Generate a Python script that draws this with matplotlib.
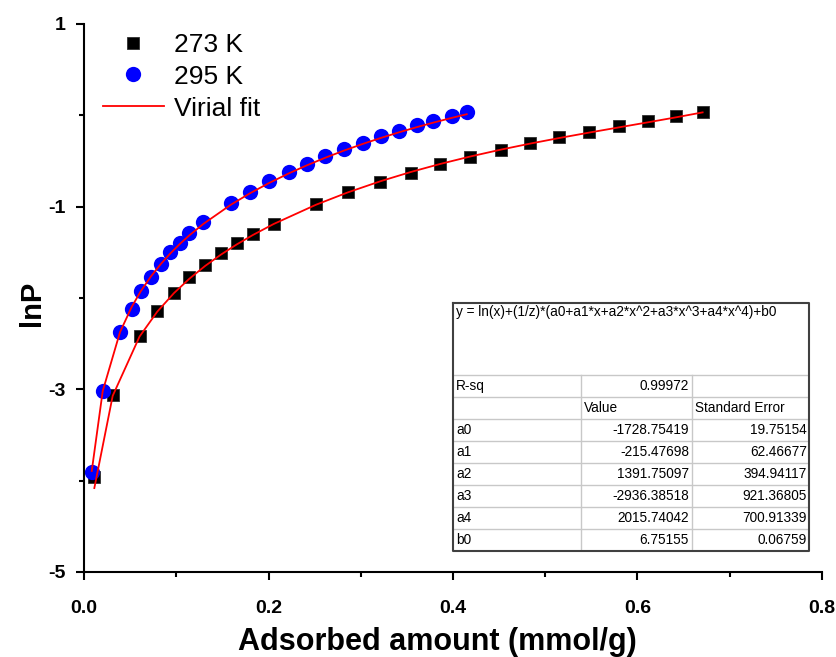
import numpy as np
import matplotlib
matplotlib.use('Agg')
import matplotlib.pyplot as plt
from matplotlib.ticker import MultipleLocator

plt.rcParams['font.family'] = ['Liberation Sans', 'DejaVu Sans']

# adsorbed amount (mmol/g) and lnP
n_273 = [0.0112, 0.0311, 0.0602, 0.0794, 0.0976, 0.1141, 0.1314, 0.1482, 0.1655,
         0.1829, 0.2056, 0.2515, 0.2858, 0.3214, 0.3544, 0.3859, 0.4184, 0.4517,
         0.4834, 0.5152, 0.5479, 0.5804, 0.6110, 0.6422, 0.6706]
lnp_273 = [-3.963, -3.062, -2.411, -2.140, -1.940, -1.773, -1.639, -1.511, -1.401,
           -1.303, -1.187, -0.974, -0.843, -0.725, -0.628, -0.538, -0.453, -0.377,
           -0.306, -0.241, -0.179, -0.115, -0.059, -0.005, 0.033]

n_295 = [0.0084, 0.0203, 0.0390, 0.0517, 0.0615, 0.0723, 0.0835, 0.0932, 0.1040,
         0.1141, 0.1293, 0.1590, 0.1799, 0.2008, 0.2222, 0.2414, 0.2616, 0.2818,
         0.3021, 0.3216, 0.3414, 0.3606, 0.3788, 0.3987, 0.4149]
lnp_295 = [-3.902, -3.015, -2.372, -2.117, -1.923, -1.767, -1.624, -1.496, -1.395,
           -1.292, -1.171, -0.963, -0.836, -0.719, -0.620, -0.530, -0.449, -0.369,
           -0.300, -0.226, -0.168, -0.111, -0.059, -0.004, 0.034]

# fit table shown in the chart
fit_formula = 'y = ln(x)+(1/z)*(a0+a1*x+a2*x^2+a3*x^3+a4*x^4)+b0'
r_sq = 0.99972
param_names = ['a0', 'a1', 'a2', 'a3', 'a4', 'b0']
param_values = [-1728.75419, -215.47698, 1391.75097, -2936.38518, 2015.74042, 6.75155]
param_errors = [19.75154, 62.46677, 394.94117, 921.36805, 700.91339, 0.06759]

x_ticks = [0.0, 0.2, 0.4, 0.6, 0.8]
y_ticks = [-5, -3, -1, 1]


def virial(n, temp):
    # virial equation with the fitted parameters from the table
    n = np.asarray(n)
    a0, a1, a2, a3, a4, b0 = param_values
    poly = a0 + a1 * n + a2 * n ** 2 + a3 * n ** 3 + a4 * n ** 4
    return np.log(n) + poly / temp + b0


W, H = 837, 657
fig = plt.figure(figsize=(W / 100, H / 100), dpi=100)
ax_l, ax_r, ax_t, ax_b = 84, 822, 24, 572
ax = fig.add_axes([ax_l / W, 1 - ax_b / H, (ax_r - ax_l) / W, (ax_b - ax_t) / H])

ax.plot(n_273, lnp_273, 's', color='black', markersize=9.3, markeredgecolor='#303030',
        markeredgewidth=0.6, label='273 K', zorder=2)
ax.plot(n_295, lnp_295, 'o', color='#0000ff', markersize=11, markeredgewidth=0,
        label='295 K', zorder=2)
ax.plot(n_273, virial(n_273, 273.0), color='#ff0000', linewidth=1.3, label='Virial fit', zorder=3)
ax.plot(n_295, virial(n_295, 295.0), color='#ff0000', linewidth=1.3, zorder=3)

ax.set_xlim(0, 0.8)
ax.set_ylim(-5, 1)
ax.set_xticks(x_ticks)
ax.set_xticklabels(['%.1f' % v for v in x_ticks])
ax.set_yticks(y_ticks)
ax.set_yticklabels(['%d' % v for v in y_ticks])
ax.xaxis.set_minor_locator(MultipleLocator(0.1))
ax.yaxis.set_minor_locator(MultipleLocator(1))

for side in ['top', 'right']:
    ax.spines[side].set_visible(False)
for side in ['left', 'bottom']:
    ax.spines[side].set_linewidth(1.5)
ax.tick_params(which='major', direction='out', length=6, width=1.5)
ax.tick_params(which='minor', direction='out', length=3.5, width=1.5)
ax.tick_params(axis='x', which='major', pad=14)
ax.tick_params(axis='y', which='major', pad=7)
for lbl in ax.get_xticklabels() + ax.get_yticklabels():
    lbl.set_fontweight('bold')
    lbl.set_fontsize(14)

ax.set_xlabel('Adsorbed amount (mmol/g)', fontsize=22, fontweight='bold')
ax.set_ylabel('lnP', fontsize=21, fontweight='bold')
ax.xaxis.set_label_coords(0.479, -0.1)
ax.yaxis.set_label_coords(-0.052, 0.49)

leg = ax.legend(loc='upper left', bbox_to_anchor=(0.0255, 0.984), frameon=False,
                fontsize=19, borderpad=0, borderaxespad=0, handlelength=2.3,
                handletextpad=0.4, labelspacing=0.3, numpoints=1)

# fit result table, drawn in pixel units
tb_l, tb_r, tb_t, tb_b = 453, 809, 303, 551
tax = fig.add_axes([tb_l / W, 1 - tb_b / H, (tb_r - tb_l) / W, (tb_b - tb_t) / H])
tw, th = tb_r - tb_l, tb_b - tb_t
tax.set_xlim(0, tw)
tax.set_ylim(th, 0)
tax.axis('off')

head_h = 72
row_h = (th - head_h) / 8.0
col1, col2 = 128, 239
grid_c = '#c8c8c8'
for i in range(1, 8):
    yy = head_h + i * row_h
    tax.plot([0, tw], [yy, yy], color=grid_c, linewidth=1)
tax.plot([0, tw], [head_h, head_h], color=grid_c, linewidth=1)
tax.plot([col1, col1], [head_h, th], color=grid_c, linewidth=1)
tax.plot([col2, col2], [head_h, th], color=grid_c, linewidth=1)
tax.plot([0, tw, tw, 0, 0], [0, 0, th, th, 0], color='#404040', linewidth=1.5, clip_on=False)

fs = 9.8
tax.text(3, 9, fit_formula, fontsize=fs, va='center', ha='left')


def row_y(i):
    return head_h + (i + 0.5) * row_h


tax.text(3, row_y(0), 'R-sq', fontsize=fs, va='center', ha='left')
tax.text(col2 - 3, row_y(0), '%.5f' % r_sq, fontsize=fs, va='center', ha='right')
tax.text(col1 + 3, row_y(1), 'Value', fontsize=fs, va='center', ha='left')
tax.text(col2 + 3, row_y(1), 'Standard Error', fontsize=fs, va='center', ha='left')
for i, name in enumerate(param_names):
    tax.text(3, row_y(i + 2), name, fontsize=fs, va='center', ha='left')
    tax.text(col2 - 3, row_y(i + 2), '%.5f' % param_values[i], fontsize=fs, va='center', ha='right')
    tax.text(tw - 2, row_y(i + 2), '%.5f' % param_errors[i], fontsize=fs, va='center', ha='right')

plt.savefig('out.png', dpi=100)
plt.close()
